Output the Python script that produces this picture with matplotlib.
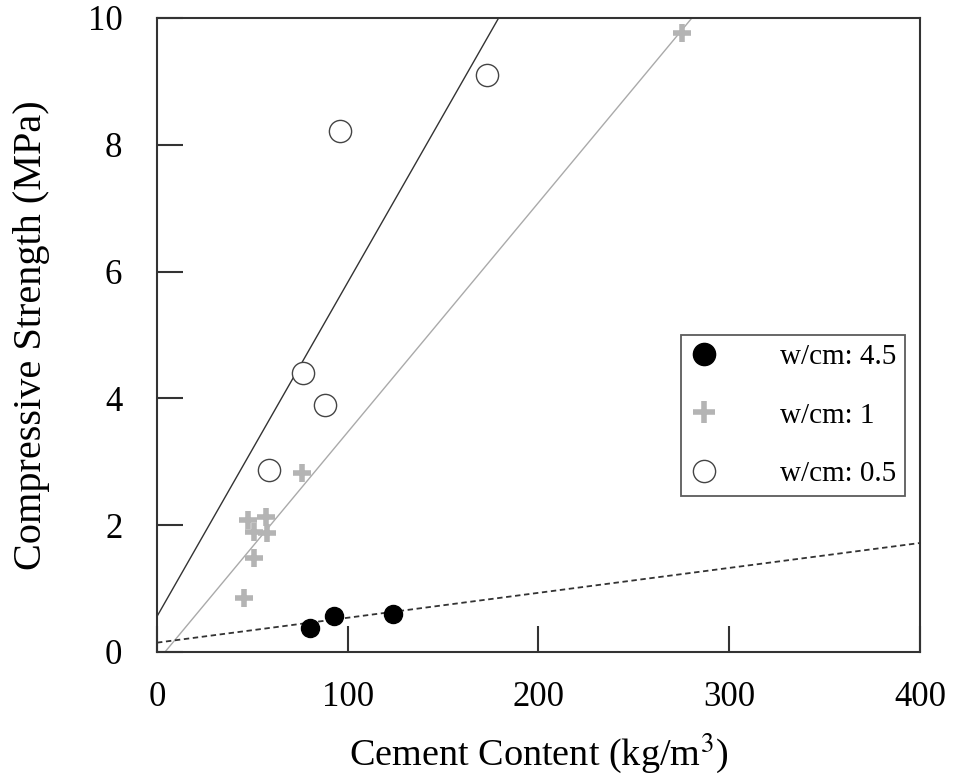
import numpy as np
import matplotlib
matplotlib.use("Agg")
import matplotlib.pyplot as plt

plt.rcParams['font.family'] = ['Liberation Serif', 'DejaVu Serif']
plt.rcParams['mathtext.fontset'] = 'stix'

# cement content (kg/m3) and compressive strength (MPa) per w/cm ratio
cement_45 = [80.2, 93.0, 123.9]
strength_45 = [0.38, 0.57, 0.60]

cement_1 = [76.2, 47.9, 57.0, 50.9, 57.8, 51.0, 45.8, 275.4]
strength_1 = [2.83, 2.08, 2.13, 1.90, 1.87, 1.49, 0.85, 9.76]

cement_05 = [58.7, 76.5, 88.1, 95.9, 173.0]
strength_05 = [2.87, 4.40, 3.90, 8.22, 9.10]

# linear trend lines (slope, intercept)
fit_45 = [0.00393, 0.147]
fit_1 = [0.0362, -0.152]
fit_05 = [0.0527, 0.56]

labels = ['w/cm: 4.5', 'w/cm: 1', 'w/cm: 0.5']

fig = plt.figure(figsize=(9.56, 7.81), dpi=100)
ax = fig.add_axes([0.1642, 0.1652, 0.7981, 0.8118])

xx = np.array([0, 400])
ax.plot(xx, np.polyval(fit_05, xx), color='#333333', lw=1.0, zorder=2)
ax.plot(xx, np.polyval(fit_1, xx), color='#aaaaaa', lw=1.0, zorder=2)
ax.plot(xx, np.polyval(fit_45, xx), color='#333333', lw=1.3,
        linestyle=(0, (3, 2)), zorder=2)

ax.plot(cement_45, strength_45, 'o', color='black', ms=13, mec='black',
        label=labels[0], zorder=3)
ax.plot(cement_1, strength_1, '+', color='#b4b4b4', ms=13, mew=4,
        label=labels[1], zorder=3)
ax.plot(cement_05, strength_05, 'o', mfc='white', mec='#444444', ms=16,
        mew=1.0, label=labels[2], zorder=3)

ax.set_xlim(0, 400)
ax.set_ylim(0, 10)
ax.set_xticks([0, 100, 200, 300, 400])
ax.set_yticks([0, 2, 4, 6, 8, 10])
ax.tick_params(direction='in', length=19, width=1.5, color='#333333',
               labelsize=25)
ax.tick_params(axis='x', pad=21)
ax.tick_params(axis='y', pad=25)
for s in ax.spines.values():
    s.set_linewidth(1.5)
    s.set_color('#333333')

ax.set_xlabel('Cement Content (kg/m$^3$)', fontsize=27.5, labelpad=12)
ax.set_ylabel('Compressive Strength (MPa)', fontsize=29, labelpad=27)

leg = ax.legend(loc='upper left', bbox_to_anchor=(0.687, 0.5), fontsize=21,
                frameon=True, fancybox=False, edgecolor='#333333',
                handlelength=1.0, handletextpad=2.1, labelspacing=1.1,
                borderpad=0.3, borderaxespad=0, markerscale=1.0)
leg.get_frame().set_linewidth(1.3)
h = leg.legend_handles
h[0].set_markersize(16)
h[1].set_markersize(16)
h[2].set_markersize(16)

fig.savefig('out.png', dpi=100)
